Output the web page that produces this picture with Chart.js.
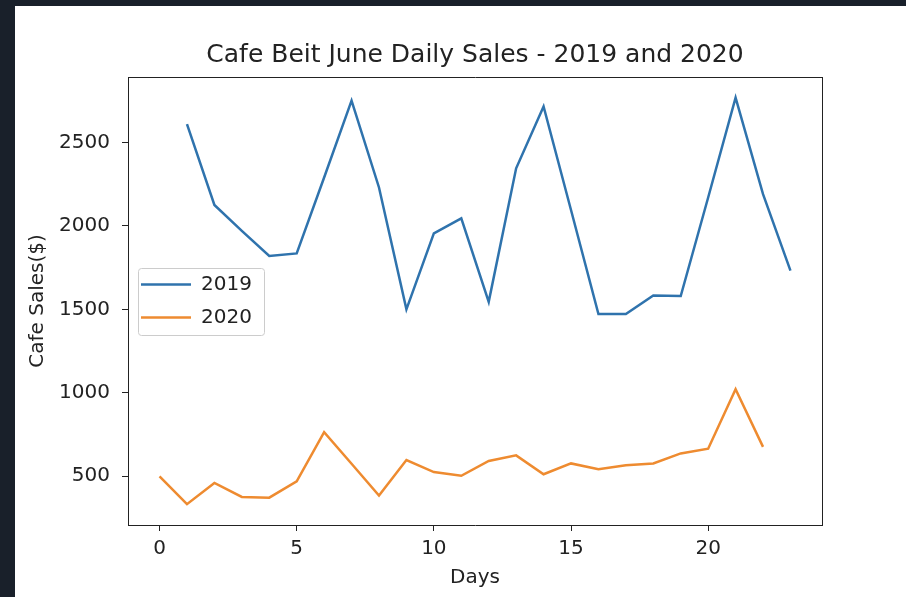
<!DOCTYPE html>
<html>
<head>
<meta charset="utf-8">
<script src="https://cdn.jsdelivr.net/npm/chart.js@4/dist/chart.umd.min.js"></script>
<style>
  html, body { margin: 0; padding: 0; width: 906px; height: 597px; overflow: hidden; background: #19202a; }
  #sheet { position: absolute; left: 15px; top: 6px; width: 891px; height: 591px; background: #fff; overflow: hidden; }
  #wrap { position: absolute; left: 0; top: 0; width: 920px; height: 591px; }
</style>
</head>
<body>
<div id="sheet"><div id="wrap"><canvas id="salgChart"></canvas></div></div>
<script>
// Dager og salg, lest av bildet
const dager2019 = [1, 2, 3, 4, 5, 6, 7, 8, 9, 10, 11, 12, 13, 14, 15, 16, 17, 18, 19, 20, 21, 22, 23];
const salg2019 = [2610, 2125, 1970, 1820, 1835, 2290, 2750, 2230, 1500, 1955, 2045, 1545, 2345, 2715, 2095, 1472, 1472, 1583, 1580, 2170, 2768, 2190, 1732];
const dager2020 = [0, 1, 2, 3, 4, 5, 6, 7, 8, 9, 10, 11, 12, 13, 14, 15, 16, 17, 18, 19, 20, 21, 22];
const salg2020 = [500, 333, 460, 376, 372, 470, 764, 575, 385, 597, 525, 503, 592, 625, 512, 577, 542, 566, 577, 637, 665, 1021, 676];
const serieNavn = ['2019', '2020'];
const xTicks = [0, 5, 10, 15, 20];
const yTicks = [500, 1000, 1500, 2000, 2500];
const tittel = 'Cafe Beit June Daily Sales - 2019 and 2020';

const FONT = 'DejaVu Sans';
const TEKST = '#222';

// flytt forklaringen ned i plottet og tegn ramme rundt den
const legendRamme = {
  id: 'legendRamme',
  afterLayout(chart) {
    const lg = chart.legend;
    if (!lg) return;
    const delta = chart.chartArea.top - lg.top;
    lg.top += delta;
    lg.bottom = chart.chartArea.bottom;
    lg.legendHitBoxes.forEach(b => { b.top += delta; });
  },
  beforeDraw(chart) {
    const boxes = chart.legend && chart.legend.legendHitBoxes;
    if (!boxes || !boxes.length) return;
    const l = Math.min(...boxes.map(b => b.left)) - 3;
    const r = Math.max(...boxes.map(b => b.left + b.width)) + 12;
    const t = boxes[0].top - 7;
    const b = boxes[boxes.length - 1].top + boxes[boxes.length - 1].height + 7;
    const ctx = chart.ctx;
    ctx.save();
    ctx.beginPath();
    ctx.roundRect(Math.round(l) + 0.5, Math.round(t) + 0.5, Math.round(r - l), Math.round(b - t), 3);
    ctx.fillStyle = '#fff';
    ctx.fill();
    ctx.strokeStyle = '#cccccc';
    ctx.lineWidth = 1;
    ctx.stroke();
    ctx.restore();
  }
};

const tilPunkter = (xs, ys) => xs.map((x, i) => ({ x: x, y: ys[i] }));

new Chart(document.getElementById('salgChart').getContext('2d'), {
  type: 'line',
  data: {
    datasets: [
      {
        label: serieNavn[0],
        data: tilPunkter(dager2019, salg2019),
        borderColor: '#2f73ad',
        backgroundColor: '#2f73ad',
        borderWidth: 2.5,
        pointRadius: 0,
        tension: 0,
        xAxisID: 'x',
        yAxisID: 'y'
      },
      {
        label: serieNavn[1],
        data: tilPunkter(dager2020, salg2020),
        borderColor: '#ee8b30',
        backgroundColor: '#ee8b30',
        borderWidth: 2.5,
        pointRadius: 0,
        tension: 0,
        xAxisID: 'x',
        yAxisID: 'y'
      }
    ]
  },
  options: {
    responsive: true,
    maintainAspectRatio: false,
    animation: false,
    layout: { padding: 0 },
    plugins: {
      title: {
        display: true,
        text: tittel,
        color: TEKST,
        font: { family: FONT, size: 25, weight: 'normal', lineHeight: 1.2 },
        padding: { top: 34, bottom: 7 }
      },
      legend: {
        position: 'chartArea',
        align: 'center',
        labels: {
          usePointStyle: true,
          pointStyle: 'line',
          pointStyleWidth: 50,
          padding: 13,
          color: TEKST,
          font: { family: FONT, size: 20 }
        }
      },
      tooltip: { enabled: false }
    },
    scales: {
      x: {
        type: 'linear',
        position: 'bottom',
        min: -1.15,
        max: 24.15,
        afterFit: s => { s.height = 72; },
        afterBuildTicks: s => { s.ticks = xTicks.map(v => ({ value: v })); },
        ticks: { color: TEKST, padding: 6, font: { family: FONT, size: 20 }, callback: v => String(v) },
        grid: { drawOnChartArea: false, drawTicks: true, tickLength: 6, tickColor: TEKST, tickWidth: 1 },
        border: { display: true, color: TEKST, width: 1 },
        title: { display: true, text: 'Days', color: TEKST, font: { family: FONT, size: 20 }, padding: { top: 0, bottom: 7 } }
      },
      y: {
        type: 'linear',
        position: 'left',
        min: 208,
        max: 2892,
        afterFit: s => { s.width = 113; },
        afterBuildTicks: s => { s.ticks = yTicks.map(v => ({ value: v })); },
        ticks: { color: TEKST, padding: 12, font: { family: FONT, size: 20 }, callback: v => String(v) },
        grid: { drawOnChartArea: false, drawTicks: true, tickLength: 6, tickColor: TEKST, tickWidth: 1 },
        border: { display: true, color: TEKST, width: 1 },
        title: { display: true, text: 'Cafe Sales($)', color: TEKST, font: { family: FONT, size: 20 }, padding: { top: 11, bottom: 0 } }
      },
      // tomme akser for ramme oppe og til hoyre
      xTopp: {
        type: 'linear',
        position: 'top',
        display: true,
        afterFit: s => { s.height = 0; },
        ticks: { display: false },
        grid: { display: false, drawTicks: false },
        border: { display: true, color: TEKST, width: 1 }
      },
      yHoyre: {
        type: 'linear',
        position: 'right',
        display: true,
        afterFit: s => { s.width = 113; },
        ticks: { display: false },
        grid: { display: false, drawTicks: false },
        border: { display: true, color: TEKST, width: 1 }
      }
    }
  },
  plugins: [legendRamme]
});
</script>
</body>
</html>
